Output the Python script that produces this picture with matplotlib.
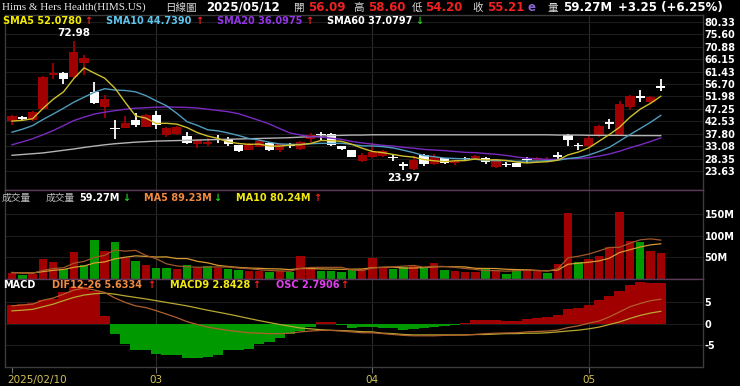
import numpy as np
import pandas as pd
import matplotlib
matplotlib.use('Agg')
import matplotlib.pyplot as plt
from matplotlib.transforms import ScaledTranslation

plt.rcParams['font.family'] = ['DejaVu Sans', 'Noto Sans CJK TC']

# --- data (HIMS daily, 2025/02/10 .. 2025/05/12) ---
dates = pd.bdate_range('2025-02-10', '2025-05-12').drop(
    [pd.Timestamp('2025-02-17'), pd.Timestamp('2025-04-18')])

opens = [42.6, 43.9, 43.0, 47.2, 60.2, 60.9, 59.2, 64.9, 53.8, 48.1,
         39.9, 40.0, 43.1, 40.5, 45.0, 37.5, 37.7, 36.9, 33.9, 33.9,
         35.8, 35.9, 33.4, 31.8, 32.8, 34.3, 31.5, 33.6, 32.1, 35.9,
         37.6, 37.6, 33.0, 31.5, 27.5, 29.0, 29.3, 28.8, 26.1, 24.3,
         29.6, 26.3, 28.4, 26.8, 28.6, 28.1, 28.6, 25.0, 26.3, 26.5,
         28.0, 27.8, 27.9, 29.6, 37.5, 33.6, 33.0, 36.8, 42.0, 37.5,
         48.0, 52.0, 49.7, 56.09]
highs = [45.0, 44.7, 46.5, 59.6, 64.9, 61.3, 72.98, 67.9, 57.6, 52.5,
         43.1, 44.4, 45.6, 45.4, 46.4, 40.4, 40.6, 38.5, 35.9, 36.3,
         37.2, 36.5, 33.6, 34.2, 35.5, 34.8, 34.2, 34.3, 35.0, 38.0,
         38.6, 37.9, 33.3, 31.7, 30.5, 34.3, 31.5, 29.6, 27.1, 29.5,
         30.1, 30.2, 28.7, 27.8, 29.0, 29.8, 29.0, 27.5, 27.1, 26.8,
         29.0, 28.9, 28.8, 30.9, 37.8, 34.3, 36.8, 41.2, 43.4, 50.3,
         52.5, 54.3, 52.3, 58.60]
lows = [41.0, 42.8, 42.8, 47.0, 58.8, 56.7, 58.9, 60.1, 49.2, 43.8,
        35.9, 39.8, 40.4, 40.2, 39.7, 36.6, 37.3, 34.0, 32.5, 33.2,
        34.3, 33.2, 31.0, 31.5, 32.6, 31.3, 30.9, 32.5, 31.8, 34.6,
        35.5, 33.2, 31.5, 28.8, 27.0, 28.4, 29.0, 27.4, 23.97, 24.1,
        25.4, 26.0, 26.2, 26.0, 27.3, 27.8, 26.3, 24.8, 25.1, 25.0,
        26.5, 27.4, 27.2, 27.8, 33.0, 31.8, 32.8, 36.5, 39.7, 37.3,
        46.9, 49.7, 49.5, 54.20]
closes = [44.6, 43.6, 46.2, 59.4, 60.8, 58.6, 68.9, 66.6, 49.4, 51.2,
          39.5, 41.9, 41.0, 45.1, 41.0, 39.9, 40.3, 34.4, 35.5, 34.5,
          35.4, 33.8, 31.3, 33.8, 35.0, 31.6, 33.8, 33.2, 34.6, 37.4,
          37.2, 33.4, 32.0, 29.0, 29.9, 31.0, 31.2, 28.5, 25.8, 28.0,
          26.3, 29.0, 26.8, 27.5, 28.3, 29.4, 27.1, 27.3, 26.0, 25.3,
          27.8, 28.4, 28.3, 29.0, 35.3, 33.2, 36.3, 40.9, 41.7, 49.3,
          52.2, 51.6, 51.96, 55.21]
volumes = [14.7, 9.3, 10.9, 45.7, 40.3, 23.3, 62.0, 32.6, 90.7, 65.0,
           85.3, 48.0, 41.9, 32.6, 26.4, 26.4, 23.3, 32.6, 26.4, 30.2,
           26.4, 22.5, 21.0, 18.6, 18.6, 17.0, 18.6, 17.0, 52.0, 28.7,
           18.6, 18.6, 17.0, 21.0, 22.0, 48.0, 27.0, 22.5, 28.7, 30.2,
           28.7, 36.4, 21.0, 18.6, 17.0, 17.0, 23.3, 21.0, 11.6, 23.3,
           22.5, 21.0, 14.7, 34.9, 152.0, 40.3, 45.7, 52.0, 73.6, 155.0,
           86.8, 84.5, 63.6, 59.27]

# moving-average values before a full window exists
sma5_head = [42.6, 42.9, 43.5, 47.4]
sma10_head = [38.4, 39.5, 40.9, 43.2, 45.3, 47.5, 49.8, 51.7, 53.6]
sma20_head = [33.6, 34.7, 35.9, 37.4, 39.0, 40.9, 42.8, 44.1, 45.3, 46.0,
              46.6, 47.1, 47.5, 47.7, 47.9, 48.0, 47.9, 47.8, 47.6]
sma60 = [29.6, 29.9, 30.2, 30.5, 31.0, 31.5, 32.0, 32.6, 33.1, 33.6,
         34.0, 34.3, 34.6, 34.8, 35.0, 35.1, 35.2, 35.3, 35.4, 35.5,
         35.6, 35.7, 35.8, 35.9, 36.0, 36.1, 36.2, 36.3, 36.5, 36.7,
         36.9, 37.1, 37.2, 37.3, 37.3, 37.4, 37.4, 37.4, 37.4, 37.4,
         37.4, 37.4, 37.4, 37.4, 37.4, 37.4, 37.4, 37.4, 37.4, 37.4,
         37.4, 37.4, 37.4, 37.3, 37.3, 37.3, 37.2, 37.2, 37.2, 37.2,
         37.1, 37.1, 37.1, 37.08]
vma5_head = [15.0, 14.0, 13.0, 20.0]
vma10_head = [15.0, 14.0, 14.0, 17.0, 20.0, 22.0, 27.0, 30.0, 37.0]

dif = [4.1, 4.3, 4.5, 5.4, 5.9, 6.8, 7.75, 8.2, 7.75, 7.2,
       5.9, 4.9, 4.1, 3.7, 3.0, 2.2, 1.4, 0.45, -0.2, -0.8,
       -1.2, -1.55, -1.85, -2.1, -2.2, -2.3, -2.3, -2.2, -1.9, -1.7,
       -1.55, -1.55, -1.7, -1.9, -2.1, -2.1, -2.3, -2.5, -2.7, -2.8,
       -2.8, -2.8, -2.7, -2.65, -2.6, -2.5, -2.3, -2.2, -2.15, -2.1,
       -1.9, -1.8, -1.7, -1.5, -0.9, -0.5, 0.1, 0.6, 1.55, 2.7,
       3.9, 4.65, 5.3, 5.63]
macd9 = [2.95, 3.1, 3.3, 3.9, 4.5, 5.3, 6.05, 6.6, 6.9, 7.05,
         6.8, 6.4, 6.05, 5.7, 5.3, 4.9, 4.5, 4.1, 3.6, 3.1,
         2.65, 2.2, 1.7, 1.2, 0.7, 0.25, -0.2, -0.6, -1.0, -1.2,
         -1.4, -1.55, -1.6, -1.7, -1.85, -1.9, -2.2, -2.3, -2.5, -2.6,
         -2.6, -2.6, -2.6, -2.6, -2.6, -2.5, -2.5, -2.4, -2.3, -2.3,
         -2.2, -2.2, -2.1, -1.9, -1.7, -1.5, -1.2, -0.8, -0.2, 0.4,
         1.2, 1.9, 2.45, 2.84]
osc_bars = [4.3, 4.6, 4.7, 5.5, 5.8, 7.2, 8.5, 8.5, 7.5, 1.8,
            -2.5, -4.6, -6.0, -6.1, -7.0, -7.3, -7.3, -7.9, -7.9, -7.6,
            -7.2, -6.0, -6.0, -5.8, -4.8, -4.3, -3.3, -2.5, -1.75, -0.8,
            0.3, 0.3, -0.3, -1.1, -0.8, -0.8, -1.1, -1.1, -1.55, -1.3,
            -1.1, -0.8, -0.6, -0.4, 0.05, 0.85, 0.85, 0.85, 0.6, 0.6,
            1.0, 1.4, 1.55, 1.95, 3.3, 3.7, 4.3, 5.5, 6.3, 7.6,
            9.0, 9.5, 9.3, 9.3]

price_ticks = [23.63, 28.35, 33.08, 37.80, 42.53, 47.25, 51.98, 56.70,
               61.43, 66.15, 70.88, 75.60, 80.33]
vol_ticks = [50, 100, 150]
macd_ticks = [-5, 0, 5]

# legend values as printed on the chart
sma_names = ['SMA5', 'SMA10', 'SMA20', 'SMA60']
sma_last = [52.0780, 44.7390, 36.0975, 37.0797]
sma_up = [True, True, True, False]
vol_ma_last = [89.23, 80.24]
vol_ma_up = [False, True]
vol_up = False
macd_last = [5.6334, 2.8428, 2.7906]
macd_up = [True, True, True]

RED = '#a00000'
GREEN = '#009a00'
UP_RED = '#f02020'
DN_GREEN = '#20d020'

# --- derived series ---
o = np.array(opens); h = np.array(highs); l = np.array(lows)
c = np.array(closes); v = np.array(volumes)
x = np.arange(len(c))
cs = pd.Series(c)
sma5 = cs.rolling(5).mean().values; sma5[:4] = sma5_head
sma10 = cs.rolling(10).mean().values; sma10[:9] = sma10_head
sma20 = cs.rolling(20).mean().values; sma20[:19] = sma20_head
vs = pd.Series(v)
vma5 = vs.rolling(5).mean().values; vma5[:4] = vma5_head
vma10 = vs.rolling(10).mean().values; vma10[:9] = vma10_head

prev = np.r_[o[0], c[:-1]]
candle_col = np.where(c > o, RED, '#ffffff')
vol_col = np.where(c >= prev, RED, GREEN)
osc_col = np.where(np.array(osc_bars) >= 0, RED, GREEN)

month_idx = [i for i in range(1, len(dates)) if dates[i].month != dates[i - 1].month]

# --- layout ---
W, H = 740, 386
fig = plt.figure(figsize=(W / 100, H / 100), dpi=100, facecolor='black')


def box(y0, y1):
    return [5 / W, 1 - y1 / H, 698 / W, (y1 - y0) / H]


ax_p = fig.add_axes(box(15, 190))
ax_v = fig.add_axes(box(190, 279), sharex=ax_p)
ax_m = fig.add_axes(box(279, 367), sharex=ax_p)

for ax in (ax_p, ax_v, ax_m):
    ax.set_facecolor('black')
    for s in ax.spines.values():
        s.set_color('#3c3c3c')
        s.set_linewidth(1)
    ax.yaxis.tick_right()
    ax.tick_params(axis='y', length=0, pad=1.2, labelcolor='white', labelsize=7)
    ax.grid(axis='y', color='#1c1c1c', lw=0.8, zorder=0)
    for m in month_idx:
        ax.axvline(m, color='#2c2c2c', lw=0.8, zorder=0)
for ax in (ax_p, ax_v):
    ax.tick_params(axis='x', bottom=False, labelbottom=False)
ax_p.spines['bottom'].set_color('#5a3a58')
ax_v.spines['top'].set_color('#5a3a58')
ax_v.spines['bottom'].set_color('#5a3a58')
ax_m.spines['top'].set_color('#5a3a58')
ax_p.set_xlim(-0.68, 67.1)

# price panel
ax_p.vlines(x, l, h, colors=candle_col, lw=1.3, zorder=3)
mid = (o + c) / 2
bh = np.maximum(np.abs(c - o), 0.5)
ax_p.bar(x, bh, 0.9, bottom=mid - bh / 2, color=candle_col, zorder=3)
ax_p.plot(x, sma60, color='#b4b4b4', lw=1.0, zorder=4)
ax_p.plot(x, sma20, color='#7a2ac0', lw=1.0, zorder=4)
ax_p.plot(x, sma10, color='#4f9cbc', lw=1.0, zorder=4)
ax_p.plot(x, sma5, color='#cfc02a', lw=1.0, zorder=4)
ax_p.set_ylim(16.40, 82.97)
ax_p.set_yticks(price_ticks, [f'{t:.2f}' for t in price_ticks], fontweight='bold')

ih, il = int(np.argmax(h)), int(np.argmin(l))
ax_p.annotate(f'{h[ih]:.2f}', (x[ih], h[ih]), xytext=(0, 2), textcoords='offset points',
              ha='center', va='bottom', color='white', fontsize=7.5, fontweight='bold')
ax_p.annotate(f'{l[il]:.2f}', (x[il], l[il]), xytext=(0, -2), textcoords='offset points',
              ha='center', va='top', color='white', fontsize=7.5, fontweight='bold')

# volume panel
ax_v.bar(x, v, 0.82, color=vol_col, zorder=2)
ax_v.plot(x, vma10, color='#d89a30', lw=0.9, zorder=3)
ax_v.plot(x, vma5, color='#a0582a', lw=0.9, zorder=3)
ax_v.set_ylim(0, 205.6)
ax_v.set_yticks(vol_ticks, [f'{t}M' for t in vol_ticks], fontweight='bold')

# MACD panel
ax_m.bar(x, osc_bars, 1.0, color=osc_col, zorder=2)
ax_m.plot(x, macd9, color='#b8a830', lw=0.9, zorder=3)
ax_m.plot(x, dif, color='#b0602c', lw=0.9, zorder=3)
ax_m.set_ylim(-10.0, 10.3)
ax_m.set_yticks(macd_ticks, [str(t) for t in macd_ticks], fontweight='bold')
xt = [0] + month_idx
xl = [dates[0].strftime('%Y/%m/%d')] + [dates[i].strftime('%m') for i in month_idx]
ax_m.set_xticks(xt, xl)
ax_m.tick_params(axis='x', length=4, color='#707070', labelcolor='#d2c456',
                 labelsize=7.5, pad=2)
lbl0 = ax_m.get_xticklabels()[0]
lbl0.set_ha('left')
lbl0.set_transform(lbl0.get_transform() + ScaledTranslation(-0.05, 0, fig.dpi_scale_trans))


# --- texts ---
def ftxt(px, py, s, **kw):
    kw.setdefault('va', 'center')
    fig.text(px / W, 1 - py / H, s, **kw)


CJK = ['Noto Sans CJK TC', 'DejaVu Sans']
hy = 7.5
hs = 8.5
ftxt(2, hy, 'Hims & Hers Health(HIMS.US)', family='Liberation Serif', color='#e6e6e6', fontsize=8.0)
ftxt(165, hy, '日線圖', family=CJK, color='#d8d8d8', fontsize=7.6)
ftxt(206, hy, dates[-1].strftime('%Y/%m/%d'), color='white', fontsize=hs, fontweight='bold')
head = [('開', o[-1], 293, 308), ('高', h[-1], 353, 368), ('低', l[-1], 412, 425), ('收', c[-1], 472, 487)]
for name, val, xn, xv in head:
    ftxt(xn, hy, name, family=CJK, color='#d8d8d8', fontsize=7.6)
    ftxt(xv, hy, f'{val:.2f}', color=UP_RED, fontsize=hs, fontweight='bold')
ftxt(527, hy, 'e', color='#8a64d0', fontsize=hs, fontweight='bold')
ftxt(547, hy, '量', family=CJK, color='#d8d8d8', fontsize=7.6)
ftxt(563, hy, f'{v[-1]:.2f}M', color='white', fontsize=hs, fontweight='bold')
chg = c[-1] - c[-2]
ftxt(618, hy, f'{chg:+.2f} ({chg / c[-2] * 100:+.2f}%)', color='white', fontsize=hs, fontweight='bold')

# SMA legend row
sma_txt_col = ['#f4ec00', '#5ec4ec', '#9434e6', '#ffffff']
sma_x = [3, 106, 217, 327]
sma_ax = [84, 195, 305, 415]
for nm, val, up, col, xs, xa in zip(sma_names, sma_last, sma_up, sma_txt_col, sma_x, sma_ax):
    ftxt(xs, 20.5, f'{nm} {val:.4f}', color=col, fontsize=7, fontweight='bold')
    ftxt(xa, 20.5, '↑' if up else '↓', color=UP_RED if up else DN_GREEN, fontsize=7, fontweight='bold')

# volume legend row
vy = 197.5
ftxt(2, vy, '成交量', family=CJK, color='#bdbdbd', fontsize=7)
ftxt(46, vy, '成交量', family=CJK, color='#bdbdbd', fontsize=7)
ftxt(79, vy, f'{v[-1]:.2f}M', color='white', fontsize=7, fontweight='bold')
ftxt(122, vy, '↑' if vol_up else '↓', color=UP_RED if vol_up else DN_GREEN, fontsize=7, fontweight='bold')
for nm, val, up, col, xs, xa in zip(['MA5', 'MA10'], vol_ma_last, vol_ma_up,
                                    ['#f08a40', '#f0ea10'], [144, 236], [213, 313]):
    ftxt(xs, vy, f'{nm} {val:.2f}M', color=col, fontsize=7, fontweight='bold')
    ftxt(xa, vy, '↑' if up else '↓', color=UP_RED if up else DN_GREEN, fontsize=7, fontweight='bold')

# MACD legend row
my = 285.5
ftxt(3, my, 'MACD', color='white', fontsize=7, fontweight='bold')
for nm, val, up, col, xs, xa in zip(['DIF12-26', 'MACD9', 'OSC'], macd_last, macd_up,
                                    ['#f08a40', '#f0ea10', '#e040f0'], [52, 170, 276], [147, 252, 340]):
    ftxt(xs, my, f'{nm} {val:.4f}', color=col, fontsize=7, fontweight='bold')
    ftxt(xa, my, '↑' if up else '↓', color=UP_RED if up else DN_GREEN, fontsize=7, fontweight='bold')

fig.savefig('out.png', dpi=100, facecolor='black')
